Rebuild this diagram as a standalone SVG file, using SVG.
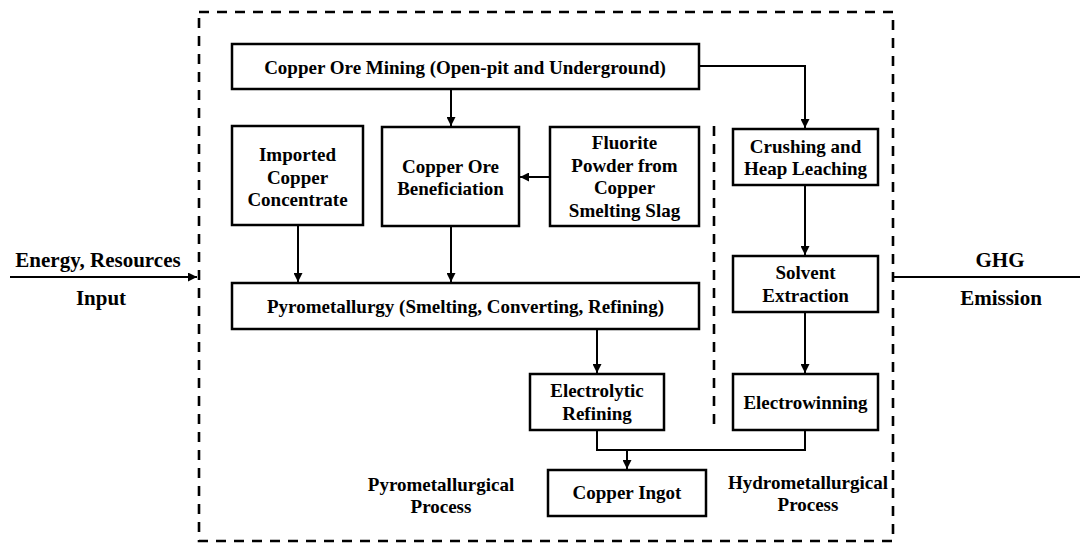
<svg xmlns="http://www.w3.org/2000/svg" width="1080" height="543" viewBox="0 0 1080 543">
<style>
text{font-family:"Liberation Serif","Times New Roman",serif;font-weight:bold;fill:#000;text-anchor:middle}
.t{font-size:19px}
.s{font-size:21px}
.box{fill:#fff;stroke:#000;stroke-width:2.5}
.dash{fill:none;stroke:#000;stroke-width:2.6;stroke-dasharray:10 8}
.ln{fill:none;stroke:#000;stroke-width:2}
</style>
<defs>
<marker id="ah" viewBox="0 0 10 10" refX="10" refY="5" markerWidth="4.5" markerHeight="4.5" orient="auto" markerUnits="strokeWidth">
<path d="M0,0 L10,5 L0,10 z" fill="#000"/>
</marker>
</defs>
<rect width="1080" height="543" fill="#fff"/>
<rect id="boundary" class="dash" x="199" y="12" width="694" height="529"/>
<line id="divider" class="dash" x1="714" y1="126" x2="714" y2="430"/>

<g id="connectors">
<line class="ln" x1="10" y1="277" x2="197" y2="277" marker-end="url(#ah)"/>
<line class="ln" x1="1080" y1="277" x2="894" y2="277"/>
<line class="ln" x1="451" y1="89" x2="451" y2="126" marker-end="url(#ah)"/>
<polyline class="ln" points="699,66 805,66 805,128" marker-end="url(#ah)"/>
<line class="ln" x1="550" y1="177" x2="520" y2="177" marker-end="url(#ah)"/>
<line class="ln" x1="298" y1="225" x2="298" y2="282" marker-end="url(#ah)"/>
<line class="ln" x1="451" y1="226" x2="451" y2="282" marker-end="url(#ah)"/>
<line class="ln" x1="805" y1="185" x2="805" y2="255" marker-end="url(#ah)"/>
<line class="ln" x1="805" y1="312" x2="805" y2="373" marker-end="url(#ah)"/>
<line class="ln" x1="597" y1="329" x2="597" y2="373" marker-end="url(#ah)"/>
<polyline class="ln" points="597,430 597,450 805,450 805,430"/>
<line class="ln" x1="627" y1="450" x2="627" y2="469" marker-end="url(#ah)"/>
</g>

<g id="mining">
<rect class="box" x="232" y="44" width="467" height="45"/>
<text class="t" x="465" y="74">Copper Ore Mining (Open-pit and Underground)</text>
</g>
<g id="imported">
<rect class="box" x="232" y="126" width="131" height="99"/>
<text class="t" x="297.5" y="161">Imported</text>
<text class="t" x="297.5" y="184">Copper</text>
<text class="t" x="297.5" y="206">Concentrate</text>
</g>
<g id="beneficiation">
<rect class="box" x="382" y="127" width="137" height="99"/>
<text class="t" x="450.5" y="173">Copper Ore</text>
<text class="t" x="450.5" y="195">Beneficiation</text>
</g>
<g id="fluorite">
<rect class="box" x="550" y="127" width="149" height="99"/>
<text class="t" x="624.5" y="149">Fluorite</text>
<text class="t" x="624.5" y="172">Powder from</text>
<text class="t" x="624.5" y="194">Copper</text>
<text class="t" x="624.5" y="217">Smelting Slag</text>
</g>
<g id="crushing">
<rect class="box" x="733" y="129" width="145" height="56"/>
<text class="t" x="805.5" y="153">Crushing and</text>
<text class="t" x="805.5" y="175">Heap Leaching</text>
</g>
<g id="solvent">
<rect class="box" x="733" y="256" width="145" height="56"/>
<text class="t" x="805.5" y="279">Solvent</text>
<text class="t" x="805.5" y="302">Extraction</text>
</g>
<g id="electrowinning">
<rect class="box" x="733" y="374" width="145" height="56"/>
<text class="t" x="805.5" y="409">Electrowinning</text>
</g>
<g id="pyrometallurgy">
<rect class="box" x="232" y="283" width="467" height="46"/>
<text class="t" x="465.5" y="313">Pyrometallurgy (Smelting, Converting, Refining)</text>
</g>
<g id="electrolytic">
<rect class="box" x="530" y="374" width="134" height="56"/>
<text class="t" x="597" y="397">Electrolytic</text>
<text class="t" x="597" y="420">Refining</text>
</g>
<g id="ingot">
<rect class="box" x="548" y="470" width="158" height="46"/>
<text class="t" x="627" y="499">Copper Ingot</text>
</g>
<g id="labels">
<text class="t" x="441" y="491">Pyrometallurgical</text>
<text class="t" x="441" y="513">Process</text>
<text class="t" x="808" y="489">Hydrometallurgical</text>
<text class="t" x="808" y="511">Process</text>
<text class="s" x="98" y="267">Energy, Resources</text>
<text class="s" x="101" y="305">Input</text>
<text class="s" x="1000" y="267">GHG</text>
<text class="s" x="1001" y="305">Emission</text>
</g>
</svg>
